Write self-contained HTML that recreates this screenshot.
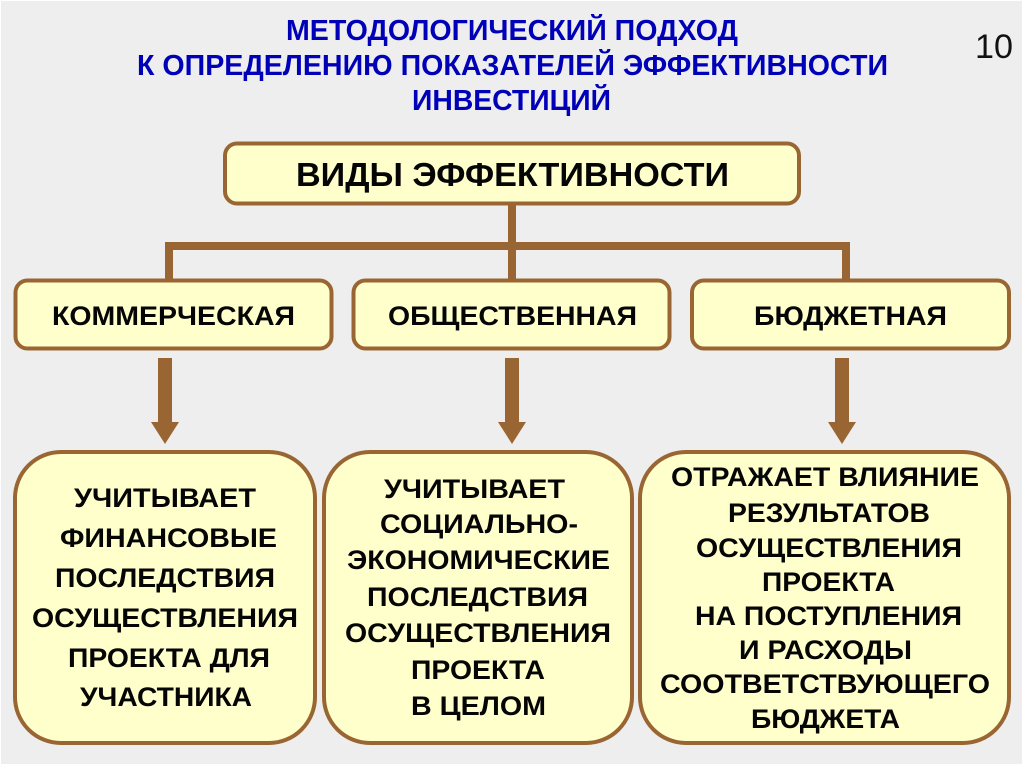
<!DOCTYPE html>
<html lang="ru">
<head>
<meta charset="utf-8">
<title>Методологический подход</title>
<style>
html,body{margin:0;padding:0;background:#fff;width:1024px;height:767px;overflow:hidden}
svg{display:block}
text{font-family:"Liberation Sans","DejaVu Sans",sans-serif;font-weight:bold;fill:#050505}
.t{fill:#0000b8;font-size:29px}
.b{font-size:27px}
.box{fill:#ffffcc;stroke:#996633;stroke-width:4}
.c{fill:#996633}
</style>
</head>
<body>
<svg width="1024" height="767" viewBox="0 0 1024 767" xmlns="http://www.w3.org/2000/svg">
<rect x="1" y="1" width="1021" height="763" fill="#eeeeee"/>

<text class="t" x="286" y="40" textLength="452" lengthAdjust="spacingAndGlyphs">МЕТОДОЛОГИЧЕСКИЙ ПОДХОД</text>
<text class="t" x="137" y="75" textLength="751" lengthAdjust="spacingAndGlyphs">К ОПРЕДЕЛЕНИЮ ПОКАЗАТЕЛЕЙ ЭФФЕКТИВНОСТИ</text>
<text class="t" x="412" y="110" textLength="199" lengthAdjust="spacingAndGlyphs">ИНВЕСТИЦИЙ</text>
<text x="975" y="58" font-size="34" textLength="38" lengthAdjust="spacingAndGlyphs" style="font-weight:normal;fill:#111">10</text>

<rect class="c" x="508" y="203" width="8" height="78"/>
<rect class="c" x="165" y="242" width="685" height="8"/>
<rect class="c" x="165" y="242" width="8" height="39"/>
<rect class="c" x="842" y="242" width="8" height="39"/>

<rect class="box" x="225" y="143.500" width="574" height="60" rx="12"/>
<rect class="box" x="15.500" y="280.500" width="316" height="68" rx="12"/>
<rect class="box" x="353.500" y="280.500" width="316" height="68" rx="12"/>
<rect class="box" x="692" y="280.500" width="317" height="68" rx="12"/>

<text x="296" y="186" font-size="33" textLength="433" lengthAdjust="spacingAndGlyphs">ВИДЫ ЭФФЕКТИВНОСТИ</text>
<text x="52" y="325" font-size="27" textLength="243" lengthAdjust="spacingAndGlyphs">КОММЕРЧЕСКАЯ</text>
<text x="388" y="325" font-size="27" textLength="249" lengthAdjust="spacingAndGlyphs">ОБЩЕСТВЕННАЯ</text>
<text x="754" y="325" font-size="27" textLength="193" lengthAdjust="spacingAndGlyphs">БЮДЖЕТНАЯ</text>

<polygon class="c" points="158,358 172,358 172,422 179,422 165,444 151,422 158,422"/>
<polygon class="c" points="505,358 519,358 519,422 526,422 512,444 498,422 505,422"/>
<polygon class="c" points="835,358 849,358 849,422 856,422 842,444 828,422 835,422"/>

<rect class="box" x="15" y="452" width="300" height="291" rx="46"/>
<rect class="box" x="324" y="452" width="308" height="291" rx="46"/>
<rect class="box" x="640" y="452" width="369" height="291" rx="46"/>

<text class="b" x="74" y="507" textLength="182" lengthAdjust="spacingAndGlyphs">УЧИТЫВАЕТ</text>
<text class="b" x="60" y="547" textLength="217" lengthAdjust="spacingAndGlyphs">ФИНАНСОВЫЕ</text>
<text class="b" x="55" y="587" textLength="220" lengthAdjust="spacingAndGlyphs">ПОСЛЕДСТВИЯ</text>
<text class="b" x="32" y="627" textLength="266" lengthAdjust="spacingAndGlyphs">ОСУЩЕСТВЛЕНИЯ</text>
<text class="b" x="68" y="667" textLength="202" lengthAdjust="spacingAndGlyphs">ПРОЕКТА ДЛЯ</text>
<text class="b" x="80" y="706" textLength="172" lengthAdjust="spacingAndGlyphs">УЧАСТНИКА</text>

<text class="b" x="384" y="498" textLength="181" lengthAdjust="spacingAndGlyphs">УЧИТЫВАЕТ</text>
<text class="b" x="380" y="533" textLength="198" lengthAdjust="spacingAndGlyphs">СОЦИАЛЬНО-</text>
<text class="b" x="347" y="569" textLength="263" lengthAdjust="spacingAndGlyphs">ЭКОНОМИЧЕСКИЕ</text>
<text class="b" x="367" y="606" textLength="221" lengthAdjust="spacingAndGlyphs">ПОСЛЕДСТВИЯ</text>
<text class="b" x="345" y="642" textLength="266" lengthAdjust="spacingAndGlyphs">ОСУЩЕСТВЛЕНИЯ</text>
<text class="b" x="411" y="679" textLength="134" lengthAdjust="spacingAndGlyphs">ПРОЕКТА</text>
<text class="b" x="411" y="715" textLength="135" lengthAdjust="spacingAndGlyphs">В ЦЕЛОМ</text>

<text class="b" x="671" y="486" textLength="308" lengthAdjust="spacingAndGlyphs">ОТРАЖАЕТ ВЛИЯНИЕ</text>
<text class="b" x="728" y="522" textLength="202" lengthAdjust="spacingAndGlyphs">РЕЗУЛЬТАТОВ</text>
<text class="b" x="696" y="557" textLength="266" lengthAdjust="spacingAndGlyphs">ОСУЩЕСТВЛЕНИЯ</text>
<text class="b" x="762" y="591" textLength="133" lengthAdjust="spacingAndGlyphs">ПРОЕКТА</text>
<text class="b" x="695" y="625" textLength="267" lengthAdjust="spacingAndGlyphs">НА ПОСТУПЛЕНИЯ</text>
<text class="b" x="739" y="659" textLength="173" lengthAdjust="spacingAndGlyphs">И РАСХОДЫ</text>
<text class="b" x="660" y="693" textLength="330" lengthAdjust="spacingAndGlyphs">СООТВЕТСТВУЮЩЕГО</text>
<text class="b" x="751" y="728" textLength="149" lengthAdjust="spacingAndGlyphs">БЮДЖЕТА</text>
</svg>
</body>
</html>
